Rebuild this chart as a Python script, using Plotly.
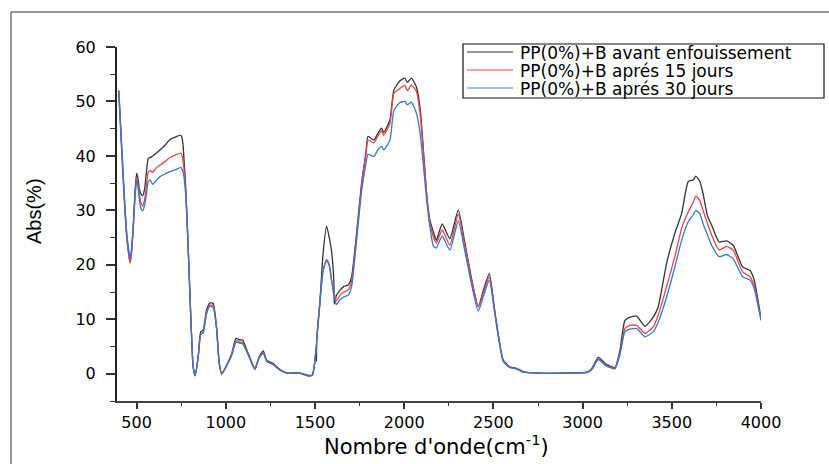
import plotly.graph_objects as go

# Wavenumber grid (cm-1) and absorbance (%) for the three samples
wavenumber = [
    400, 416, 434, 447, 459, 463, 470, 481, 490, 500, 507, 515, 525, 534, 545, 555,
    565, 575, 590, 610, 631, 660, 687, 720, 748, 755, 761, 776, 789, 803, 817, 828,
    845, 859, 873, 892, 911, 929, 948, 963, 977, 1005, 1033, 1057, 1079, 1094, 1126,
    1163, 1187, 1210, 1229, 1266, 1285, 1313, 1341, 1415, 1460, 1485, 1500, 1506,
    1508, 1510, 1528, 1545, 1565, 1580, 1592, 1606, 1608, 1620, 1640, 1660, 1686,
    1705, 1733, 1761, 1785, 1797, 1830, 1850, 1873, 1885, 1920, 1942, 1976, 2003,
    2018, 2040, 2068, 2090, 2127, 2144, 2163, 2180, 2213, 2256, 2303, 2340, 2380,
    2415, 2445, 2477, 2510, 2555, 2593, 2630, 2666, 2761, 2900, 3023, 3050, 3088,
    3130, 3181, 3209, 3237, 3265, 3303, 3349, 3396, 3424, 3471, 3517, 3555, 3592,
    3620, 3635, 3657, 3675, 3700, 3723, 3765, 3807, 3844, 3897, 3938, 3962, 4000,
]

abs_avant = [
    52.0, 41.7, 30.7, 24.5, 21.5, 20.6, 22.0, 27.0, 33.0, 36.8, 36.0, 34.0, 33.0, 32.7, 34.0, 37.0,
    39.5, 39.7, 40.0, 40.5, 41.1, 42.0, 43.0, 43.5, 43.8, 43.3, 41.7, 33.7, 23.3, 11.1, 1.2, -0.4,
    3.1, 7.7, 8.0, 11.7, 13.0, 12.9, 8.6, 1.9, -0.1, 1.6, 3.7, 6.5, 6.2, 6.2, 3.7,
    1.0, 3.1, 4.2, 2.5, 1.9, 1.3, 0.6, 0.15, 0.15, -0.3, -0.2, 2.5, 5.0,
    2.3, 6.5, 13.5, 22.0, 27.1, 25.0, 22.7, 16.7, 12.8, 14.4, 15.3, 16.0, 16.3,
    17.8, 25.8, 35.0, 40.5, 43.6, 42.9, 44.0, 45.1, 44.3, 46.6, 52.1, 53.8, 54.3,
    53.5, 54.3, 52.7, 48.5, 32.5, 28.2, 26.1, 24.5, 27.5, 24.8, 30.1, 24.0, 17.0,
    12.3, 15.5, 18.4, 11.0, 2.5, 1.25, 1.0, 0.4, 0.1, 0.15, 0.3, 0.9, 3.0,
    1.8, 1.1, 4.3, 9.8, 10.4, 10.6, 8.7, 10.4, 12.3, 20.3, 25.8, 29.4, 35.3,
    35.6, 36.3, 35.3, 33.1, 29.0, 27.3, 24.2, 24.4, 23.6, 19.6, 19.0, 17.2, 10.2,
]

abs_15j = [
    51.5, 41.0, 30.0, 24.0, 21.0, 20.3, 21.5, 26.5, 32.0, 35.8, 35.0, 33.0, 31.3, 30.8, 32.0, 34.5,
    37.0, 37.3, 37.0, 37.8, 38.3, 39.0, 39.7, 40.2, 40.5, 40.0, 39.0, 33.0, 23.0, 11.0, 1.2, -0.3,
    3.0, 7.2, 7.6, 11.3, 12.6, 12.5, 8.4, 1.9, 0.0, 1.5, 3.5, 6.1, 5.8, 5.8, 3.5,
    0.8, 3.0, 3.9, 2.3, 1.7, 1.2, 0.5, 0.1, 0.1, -0.4, -0.3, 2.5, 4.5,
    5.5, 6.5, 13.5, 19.0, 20.9, 20.0, 17.5, 14.8, 14.5, 13.4, 14.4, 15.0, 15.4,
    17.0, 25.3, 34.5, 40.2, 42.9, 42.4, 43.5, 44.6, 43.8, 46.0, 51.5, 52.4, 53.0,
    52.0, 53.0, 51.9, 47.5, 32.5, 27.8, 25.2, 24.0, 26.4, 23.6, 29.3, 23.5, 16.8,
    12.3, 15.0, 17.8, 10.8, 2.4, 1.2, 0.9, 0.3, 0.1, 0.1, 0.25, 0.8, 2.7,
    1.6, 1.0, 3.8, 8.3, 8.9, 8.9, 7.4, 8.6, 10.8, 16.0, 21.5, 26.7, 29.7,
    31.5, 32.6, 31.8, 30.0, 27.6, 25.5, 22.7, 23.4, 22.7, 18.7, 17.8, 16.2, 10.0,
]

abs_30j = [
    52.0, 42.0, 31.0, 25.0, 22.0, 21.0, 22.5, 27.0, 32.0, 35.5, 34.5, 32.0, 30.3, 29.9, 31.0, 33.0,
    35.2, 35.6, 34.8, 35.5, 36.2, 36.7, 37.1, 37.5, 37.9, 37.5, 37.0, 32.5, 23.0, 11.0, 1.3, -0.2,
    3.0, 7.2, 7.5, 11.0, 12.4, 12.2, 8.3, 2.0, 0.1, 1.5, 3.4, 5.8, 5.6, 5.5, 3.4,
    0.8, 2.9, 3.8, 2.3, 1.7, 1.1, 0.5, 0.1, 0.1, -0.4, -0.3, 2.5, 4.5,
    5.3, 6.2, 13.0, 18.8, 20.9, 19.8, 17.2, 14.3, 14.0, 12.7, 13.6, 14.1, 14.4,
    16.0, 24.5, 33.5, 38.5, 40.3, 39.9, 41.0, 41.8, 41.1, 42.9, 48.4, 49.8, 50.0,
    49.4, 49.9, 47.9, 44.0, 31.5, 27.0, 23.5, 23.1, 25.3, 22.7, 28.1, 22.5, 16.0,
    11.5, 14.3, 17.2, 10.5, 2.3, 1.1, 0.9, 0.3, 0.1, 0.1, 0.2, 0.7, 2.6,
    1.5, 0.9, 3.5, 7.7, 8.2, 8.3, 6.8, 7.7, 9.5, 14.1, 19.6, 24.5, 27.9,
    29.2, 30.0, 29.4, 27.6, 25.5, 23.6, 21.5, 21.9, 21.1, 17.8, 17.2, 15.6, 9.8,
]

series_names = [
    "PP(0%)+B avant enfouissement",
    "PP(0%)+B aprés 15 jours",
    "PP(0%)+B aprés 30 jours",
]
series_values = [abs_avant, abs_15j, abs_30j]
series_colors = ["#333333", "#f23f3f", "#2c78e4"]

x_range = [390, 4000]
y_range = [-5, 60]

# figure geometry (pixels)
W, H = 829, 464
ML, MR, MT, MB = 117, 68, 47, 63
PW, PH = W - ML - MR, H - MT - MB


def px_x(px):
    return (px - ML) / PW


def px_y(py):
    return (H - MB - py) / PH


fig = go.Figure()
for name, vals, col in zip(series_names, series_values, series_colors):
    fig.add_trace(go.Scatter(
        x=wavenumber, y=vals, mode="lines", name=name, showlegend=False,
        line=dict(color=col, width=1.3, shape="spline", smoothing=0.5),
    ))

font_main = "DejaVu Sans"

fig.update_layout(
    width=W, height=H,
    margin=dict(l=ML, r=MR, t=MT, b=MB, pad=0),
    paper_bgcolor="white", plot_bgcolor="white",
    font=dict(family=font_main, size=16, color="#000000"),
    xaxis=dict(
        range=x_range, showgrid=False, zeroline=False,
        showline=True, linecolor="#444444", linewidth=2,
        ticks="outside", ticklen=6, tickwidth=1.5, tickcolor="#333333",
        tickvals=[500, 1000, 1500, 2000, 2500, 3000, 3500, 4000],
        minor=dict(ticks="outside", ticklen=3, tickwidth=1, tickcolor="#333333",
                   tickvals=[750, 1250, 1750, 2250, 2750, 3250, 3750]),
        tickfont=dict(family=font_main, size=16),
    ),
    yaxis=dict(
        range=y_range, showgrid=False, zeroline=False,
        showline=True, linecolor="#222222", linewidth=2,
        ticks="outside", ticklen=9, tickwidth=1.5, tickcolor="#333333",
        tickvals=[0, 10, 20, 30, 40, 50, 60],
        minor=dict(ticks="outside", ticklen=5, tickwidth=1, tickcolor="#333333",
                   tickvals=[-5, 5, 15, 25, 35, 45, 55]),
        tickfont=dict(family=font_main, size=16),
        ticklabelstandoff=7,
    ),
)

# outer frame (left and top edges visible)
fig.add_shape(type="rect", xref="paper", yref="paper",
              x0=px_x(11), x1=px_x(835), y0=px_y(470), y1=px_y(12),
              line=dict(color="#333333", width=1), layer="below")

# axis titles
fig.add_annotation(text="Abs(%)", xref="paper", yref="paper",
                   x=px_x(34), y=px_y(211), textangle=-90, showarrow=False,
                   xanchor="center", yanchor="middle",
                   font=dict(family="Liberation Sans Narrow, Liberation Sans", size=20))
fig.add_annotation(text="Nombre d'onde(cm<sup>-1</sup>)", xref="paper", yref="paper",
                   x=px_x(436), y=px_y(445), showarrow=False,
                   xanchor="center", yanchor="middle",
                   font=dict(family=font_main, size=21))

# legend box with line samples and labels
fig.add_shape(type="rect", xref="paper", yref="paper",
              x0=px_x(463), x1=px_x(824), y0=px_y(98), y1=px_y(44),
              line=dict(color="#111111", width=1.2), fillcolor="white")
for i, (name, col) in enumerate(zip(series_names, series_colors)):
    yc = 52 + 18 * i
    fig.add_shape(type="line", xref="paper", yref="paper",
                  x0=px_x(467), x1=px_x(513), y0=px_y(yc), y1=px_y(yc),
                  line=dict(color=col, width=1.2))
    fig.add_annotation(text=name, xref="paper", yref="paper",
                       x=px_x(518), y=px_y(yc + 1), showarrow=False,
                       xanchor="left", yanchor="middle",
                       font=dict(family=font_main, size=17, color="#000000"))

fig.write_html("out.html")
